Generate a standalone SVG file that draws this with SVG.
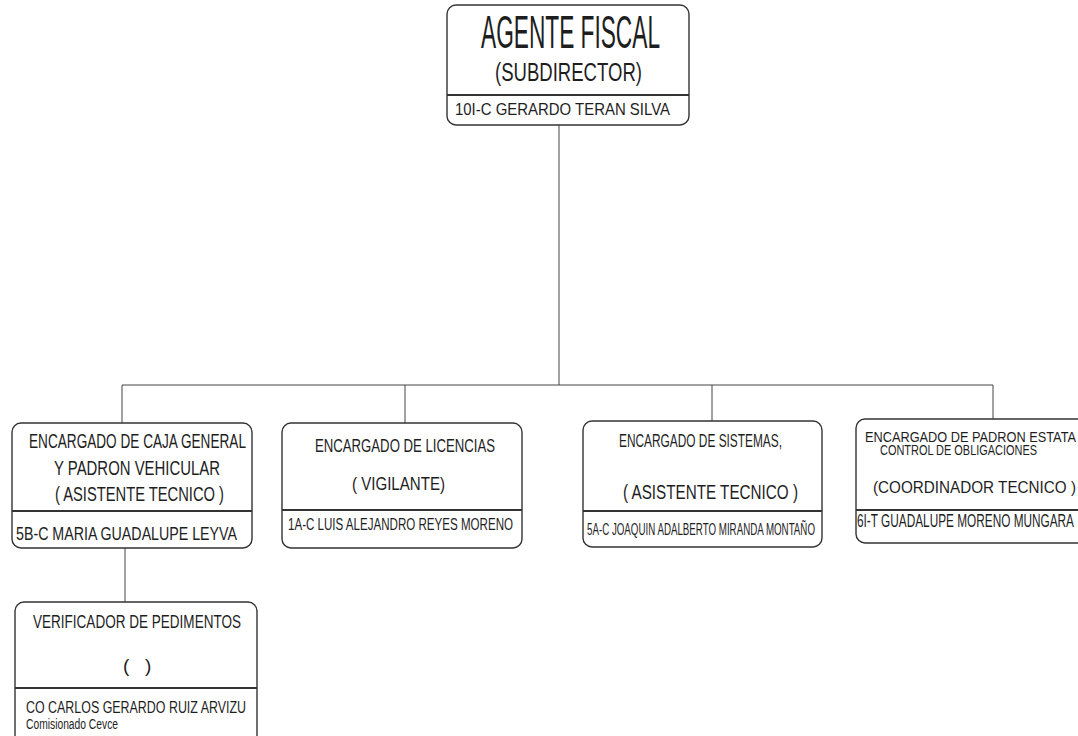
<svg xmlns="http://www.w3.org/2000/svg" width="1078" height="736" viewBox="0 0 1078 736">
<style>
.box{fill:#fff;stroke:#333;stroke-width:1.4}
.div{stroke:#333;stroke-width:2}
.con{stroke:#444;stroke-width:1;fill:none}
text{font-family:"Liberation Sans",Arial,sans-serif;fill:#1e1e1e}
</style>
<rect width="1078" height="736" fill="#fff"/>
<g id="connectors">
<path class="con" d="M559,125 V385 M122,385 H993 M122,385 V423 M405,385 V423 M712,385 V421 M993,385 V419 M125,548 V602"/>
</g>
<g id="n-agente">
<rect class="box" x="447" y="5" width="242" height="120" rx="9"/>
<line class="div" x1="447" y1="95" x2="689" y2="95"/>
<text x="481" y="48" font-size="46" textLength="179" lengthAdjust="spacingAndGlyphs">AGENTE FISCAL</text>
<text x="495" y="81" font-size="26" textLength="147" lengthAdjust="spacingAndGlyphs">(SUBDIRECTOR)</text>
<text x="455" y="115" font-size="17" textLength="215" lengthAdjust="spacingAndGlyphs">10I-C GERARDO TERAN SILVA</text>
</g>
<g id="n-caja">
<rect class="box" x="12" y="423" width="240" height="125" rx="9"/>
<line class="div" x1="12" y1="511" x2="252" y2="511"/>
<text x="29" y="448" font-size="19.5" textLength="217" lengthAdjust="spacingAndGlyphs">ENCARGADO DE CAJA GENERAL</text>
<text x="54" y="475" font-size="19.5" textLength="166" lengthAdjust="spacingAndGlyphs">Y PADRON VEHICULAR</text>
<text x="55" y="501" font-size="19.5" textLength="169" lengthAdjust="spacingAndGlyphs">( ASISTENTE TECNICO )</text>
<text x="16" y="540" font-size="18.5" textLength="221" lengthAdjust="spacingAndGlyphs">5B-C MARIA GUADALUPE LEYVA</text>
</g>
<g id="n-licencias">
<rect class="box" x="282" y="423" width="240" height="125" rx="9"/>
<line class="div" x1="282" y1="510" x2="522" y2="510"/>
<text x="315" y="452" font-size="18.5" textLength="180" lengthAdjust="spacingAndGlyphs">ENCARGADO DE LICENCIAS</text>
<text x="352" y="490" font-size="19" textLength="93" lengthAdjust="spacingAndGlyphs">( VIGILANTE)</text>
<text x="288" y="530" font-size="17" textLength="225" lengthAdjust="spacingAndGlyphs">1A-C LUIS ALEJANDRO REYES MORENO</text>
</g>
<g id="n-sistemas">
<rect class="box" x="583" y="421" width="239" height="126" rx="9"/>
<line class="div" x1="583" y1="511" x2="822" y2="511"/>
<text x="619" y="447" font-size="19" textLength="163" lengthAdjust="spacingAndGlyphs">ENCARGADO DE SISTEMAS,</text>
<text x="623" y="499" font-size="19.5" textLength="175" lengthAdjust="spacingAndGlyphs">( ASISTENTE TECNICO )</text>
<text x="587" y="535" font-size="16.5" textLength="228" lengthAdjust="spacingAndGlyphs">5A-C JOAQUIN ADALBERTO MIRANDA MONTAÑO</text>
</g>
<g id="n-padron">
<rect class="box" x="856" y="419" width="260" height="124" rx="9"/>
<line class="div" x1="856" y1="510" x2="1078" y2="510"/>
<text x="865" y="442" font-size="14" textLength="211" lengthAdjust="spacingAndGlyphs">ENCARGADO DE PADRON ESTATA</text>
<text x="880" y="455" font-size="14" textLength="157" lengthAdjust="spacingAndGlyphs">CONTROL DE OBLIGACIONES</text>
<text x="873" y="493" font-size="17" textLength="203" lengthAdjust="spacingAndGlyphs">(COORDINADOR TECNICO )</text>
<text x="857" y="527" font-size="18" textLength="217" lengthAdjust="spacingAndGlyphs">6I-T GUADALUPE MORENO MUNGARA</text>
</g>
<g id="n-verificador">
<rect class="box" x="15" y="602" width="242" height="150" rx="9"/>
<line class="div" x1="15" y1="688" x2="257" y2="688"/>
<text x="33" y="628" font-size="19" textLength="208" lengthAdjust="spacingAndGlyphs">VERIFICADOR DE PEDIMENTOS</text>
<text y="672" font-size="19"><tspan x="123">(</tspan><tspan x="145">)</tspan></text>
<text x="26" y="713" font-size="16" textLength="220" lengthAdjust="spacingAndGlyphs">CO CARLOS GERARDO RUIZ ARVIZU</text>
<text x="26" y="729" font-size="15.5" textLength="92" lengthAdjust="spacingAndGlyphs">Comisionado Cevce</text>
</g>
</svg>
